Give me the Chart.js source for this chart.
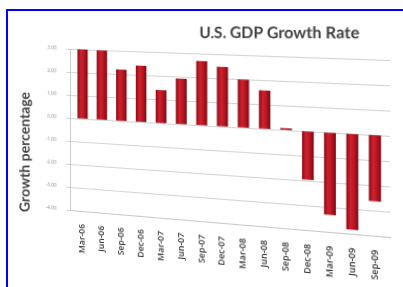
<!DOCTYPE html>
<html><head><meta charset="utf-8">
<script src="https://cdn.jsdelivr.net/npm/chart.js@4.4.1/dist/chart.umd.min.js"></script>
<style>
html,body{margin:0;padding:0;background:#fff;overflow:hidden;width:403px;height:287px;}
#wrap{position:absolute;left:0;top:0;width:403px;height:287px;transform-origin:0 0;}
#frame{position:absolute;left:6px;top:9px;width:410px;height:300px;border-top:2.5px solid #0000ff;border-left:2.5px solid #0000ff;box-sizing:border-box;pointer-events:none;z-index:2;}
canvas{display:block;}
</style></head><body>
<div id="wrap"><canvas id="c" width="403" height="287"></canvas></div>
<div id="frame"></div>
<script>
// ---- data ----
const categories = ['Mar-06','Jun-06','Sep-06','Dec-06','Mar-07','Jun-07','Sep-07','Dec-07','Mar-08','Jun-08','Sep-08','Dec-08','Mar-09','Jun-09','Sep-09'];
const growth = [3.0, 2.97, 2.18, 2.38, 1.38, 1.9, 2.67, 2.46, 1.97, 1.56, 0.06, -1.95, -3.3, -3.82, -2.62];
const yTicks = [3, 2, 1, 0, -1, -2, -3, -4];
const chartTitle = 'U.S. GDP Growth Rate';
const yAxisTitle = 'Growth percentage';

// ---- perspective (3D view) helpers ----
const VIEW = {tl:[70,49], tr:[390,60], bl:[70,210], br:[390,237]};
function solve(A, b){const n=b.length;for(let i=0;i<n;i++){let m=i;for(let k=i+1;k<n;k++)if(Math.abs(A[k][i])>Math.abs(A[m][i]))m=k;[A[i],A[m]]=[A[m],A[i]];[b[i],b[m]]=[b[m],b[i]];for(let k=i+1;k<n;k++){const f=A[k][i]/A[i][i];for(let j=i;j<n;j++)A[k][j]-=f*A[i][j];b[k]-=f*b[i];}}const x=new Array(n);for(let i=n-1;i>=0;i--){let s=b[i];for(let j=i+1;j<n;j++)s-=A[i][j]*x[j];x[i]=s/A[i][i];}return x;}
function homography(src, dst){const A=[],b=[];for(let i=0;i<4;i++){const [x,y]=src[i],[X,Y]=dst[i];A.push([x,y,1,0,0,0,-X*x,-X*y]);b.push(X);A.push([0,0,0,x,y,1,-Y*x,-Y*y]);b.push(Y);}const h=solve(A,b);return [[h[0],h[1],h[2]],[h[3],h[4],h[5]],[h[6],h[7],1]];}
function inv3(m){const [a,b,c]=m[0],[d,e,f]=m[1],[g,h,i]=m[2];const A=e*i-f*h,B=-(d*i-f*g),C=d*h-e*g;const det=a*A+b*B+c*C;return [[A/det,-(b*i-c*h)/det,(b*f-c*e)/det],[B/det,(a*i-c*g)/det,-(a*f-c*d)/det],[C/det,-(a*h-b*g)/det,(a*e-b*d)/det]];}
function apply(m,x,y){const w=m[2][0]*x+m[2][1]*y+m[2][2];return {x:(m[0][0]*x+m[0][1]*y+m[0][2])/w,y:(m[1][0]*x+m[1][1]*y+m[1][2])/w};}

function drawFlatText(chart, text, X, Y, font, color, rot){
  const H=chart.$H, Hi=chart.$Hi; if(!H) return;
  const p=apply(Hi,X,Y);
  const w=H[2][0]*p.x+H[2][1]*p.y+H[2][2];
  const q=apply(H,p.x,p.y);
  const j11=(H[0][0]-q.x*H[2][0])/w, j12=(H[0][1]-q.x*H[2][1])/w;
  const j21=(H[1][0]-q.y*H[2][0])/w, j22=(H[1][1]-q.y*H[2][1])/w;
  const det=j11*j22-j12*j21;
  const i11=j22/det, i12=-j12/det, i21=-j21/det, i22=j11/det;
  const r=chart.currentDevicePixelRatio||1;
  const ctx=chart.ctx; ctx.save();
  ctx.setTransform(i11*r, i21*r, i12*r, i22*r, p.x*r, p.y*r);
  if(rot) ctx.rotate(rot);
  ctx.font=font; ctx.fillStyle=color; ctx.textAlign='center'; ctx.textBaseline='middle';
  ctx.fillText(text,0,0);
  ctx.restore();
}

const viewPlugin = {
  id:'view3d',
  afterLayout(chart){
    const a=chart.chartArea, ys=chart.scales.y;
    const t=ys.getPixelForValue(ys.max), bt=ys.getPixelForValue(ys.min);
    const H=homography([[a.left,t],[a.right,t],[a.left,bt],[a.right,bt]],[VIEW.tl,VIEW.tr,VIEW.bl,VIEW.br]);
    chart.$H=H; chart.$Hi=inv3(H);
    chart.canvas.parentNode.style.transform='matrix3d('+[H[0][0],H[1][0],0,H[2][0],H[0][1],H[1][1],0,H[2][1],0,0,1,0,H[0][2],H[1][2],0,1].join(',')+')';
  },
  afterDraw(chart){
    drawFlatText(chart, chartTitle, 277.5, 33, 'bold 16px Lato', '#404040', 0);
    drawFlatText(chart, yAxisTitle, 25, 152, 'bold 14px Lato', '#404040', -Math.PI/2);
  }
};

function barFill(c){
  const chart=c.chart, xs=chart.scales && chart.scales.x;
  if(c.type!=='data'||!xs||!isFinite(xs.getPixelForValue(c.dataIndex))) return '#b8141f';
  const px=xs.getPixelForValue(c.dataIndex);
  const g=chart.ctx.createLinearGradient(px-5.5,0,px+5.5,0);
  g.addColorStop(0,'#8a0c18'); g.addColorStop(0.35,'#d0202e'); g.addColorStop(0.7,'#b5141f'); g.addColorStop(1,'#760a14');
  return g;
}

new Chart(document.getElementById('c'), {
  type:'bar',
  data:{ datasets:[{ label:'Growth', data: growth.map((v,i)=>({x:i,y:v})), backgroundColor: barFill, borderWidth:0, barThickness:10.5 }]},
  options:{
    responsive:false, animation:false,
    layout:{padding:{top:49,right:13,left:0,bottom:0}},
    plugins:{legend:{display:false}, tooltip:{enabled:false}, title:{display:false}},
    scales:{
      x:{ type:'linear', min:-0.15, max:categories.length-0.85,
        afterBuildTicks:s=>{ s.ticks=categories.map((_,i)=>({value:i})); },
        afterFit:s=>{ s.height=77; },
        grid:{display:false, drawTicks:false},
        border:{display:true,color:'#c8c8c8'},
        ticks:{ autoSkip:false, minRotation:90, maxRotation:90, padding:13, color:'#333333', font:{family:'Open Sans',size:8.5,weight:'600'},
          callback:v=>categories[v] }
      },
      y:{ min:-4, max:3,
        afterBuildTicks:s=>{ s.ticks=yTicks.map(v=>({value:v})); },
        afterFit:s=>{ s.width=70; },
        grid:{color:'#d4d4d4', tickLength:4},
        border:{display:true,color:'#c8c8c8'},
        ticks:{ padding:11, color:'#8a8a8a', font:{family:'Open Sans',size:5}, callback:v=>Number(v).toFixed(2) }
      }
    }
  },
  plugins:[viewPlugin]
});
</script>
</body></html>
